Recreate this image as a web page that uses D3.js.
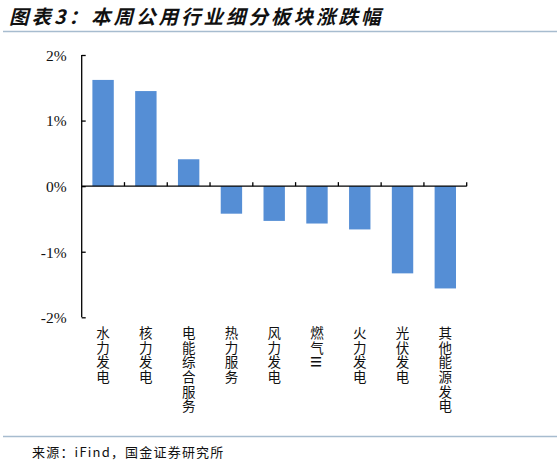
<!DOCTYPE html>
<html><head><meta charset="utf-8">
<script src="https://cdn.jsdelivr.net/npm/d3@7"></script>
<style>
body{margin:0;background:#fff;}
svg{display:block;}
</style></head>
<body>
<svg id="c" width="557" height="466"></svg>
<script>
const categories = ["水力发电","核力发电","电能综合服务","热力服务","风力发电","燃气Ⅲ","火力发电","光伏发电","其他能源发电"];
const values = [1.62, 1.45, 0.41, -0.42, -0.53, -0.57, -0.66, -1.33, -1.56];
const yTicks = [-2, -1, 0, 1, 2];
const title = "图表3：本周公用行业细分板块涨跌幅";
const source = "来源：iFind，国金证券研究所";

const svg = d3.select("#c");
const x0 = 81.7, x1 = 466.7;
const x = d3.scaleBand().domain(categories).range([x0, x1]).paddingInner(0.5).paddingOuter(0.25);
const y = d3.scaleLinear().domain([-2, 2]).range([317.3, 55]);

// title
svg.append("text").attr("x", 9).attr("y", 24)
  .attr("font-family", "'Noto Sans CJK SC'").attr("font-size", 19.5).attr("font-weight", "bold")
  .attr("font-style", "italic").attr("letter-spacing", 3).attr("fill", "#111").text(title);
svg.append("line").attr("x1", 3).attr("x2", 557).attr("y1", 31.5).attr("y2", 31.5)
  .attr("stroke", "#a7bccf").attr("stroke-width", 1.5);

// bars
svg.append("g").selectAll("rect").data(values).join("rect")
  .attr("x", (d, i) => x(categories[i]))
  .attr("width", x.bandwidth())
  .attr("y", d => Math.min(y(d), y(0)))
  .attr("height", d => Math.abs(y(d) - y(0)))
  .attr("fill", "#558ed5");

// y axis
const yAxis = d3.axisLeft(y).tickValues(yTicks).tickSize(-4).tickPadding(15).tickFormat(d => d + "%");
const gy = svg.append("g").attr("transform", `translate(${x0},0)`).call(yAxis);
gy.select(".domain").attr("stroke", "#000").attr("stroke-width", 1.3).attr("d", `M-0,${y(2)}H0V${y(-2)}H-0`);
gy.selectAll(".tick line").attr("stroke", "#000").attr("stroke-width", 1.3);
gy.selectAll(".tick text").attr("font-family", "'Liberation Serif','Times New Roman',serif")
  .attr("font-size", 15.5).attr("fill", "#111").attr("dy", "0.34em");

// x axis at zero with boundary ticks pointing up
const gx = svg.append("g").attr("transform", `translate(0,${y(0)})`);
gx.append("line").attr("x1", x0).attr("x2", x1).attr("stroke", "#000").attr("stroke-width", 1.3);
const step = x.step();
const bounds = d3.range(1, categories.length + 1).map(i => x(categories[0]) - x.paddingOuter() * step + i * step);
gx.selectAll(".bt").data(bounds).join("line").attr("class", "bt")
  .attr("x1", d => d).attr("x2", d => d).attr("y1", 0).attr("y2", -4)
  .attr("stroke", "#000").attr("stroke-width", 1.3);

// category labels (vertical, one text each)
const lg = svg.append("g");
categories.forEach((c) => {
  const cx = x(c) + x.bandwidth() / 2;
  const t = lg.append("text").attr("x", cx).attr("y", 326)
    .attr("font-family", "'Noto Sans CJK SC'").attr("font-size", 13.5)
    .attr("letter-spacing", 1.2)
    .attr("fill", "#111").style("writing-mode", "vertical-rl");
  const plain = c.replace("Ⅲ", "");
  t.append("tspan").text(plain);
  if (c.includes("Ⅲ")) {
    t.append("tspan").style("text-orientation", "sideways").text("Ⅲ");
  }
});

// footer
svg.append("line").attr("x1", 3).attr("x2", 557).attr("y1", 436.5).attr("y2", 436.5)
  .attr("stroke", "#a7bccf").attr("stroke-width", 1.5);
svg.append("text").attr("x", 32).attr("y", 457)
  .attr("font-family", "'Noto Sans CJK SC'").attr("font-size", 13).attr("letter-spacing", 1.2)
  .attr("fill", "#111").text(source);
</script>
</body></html>
